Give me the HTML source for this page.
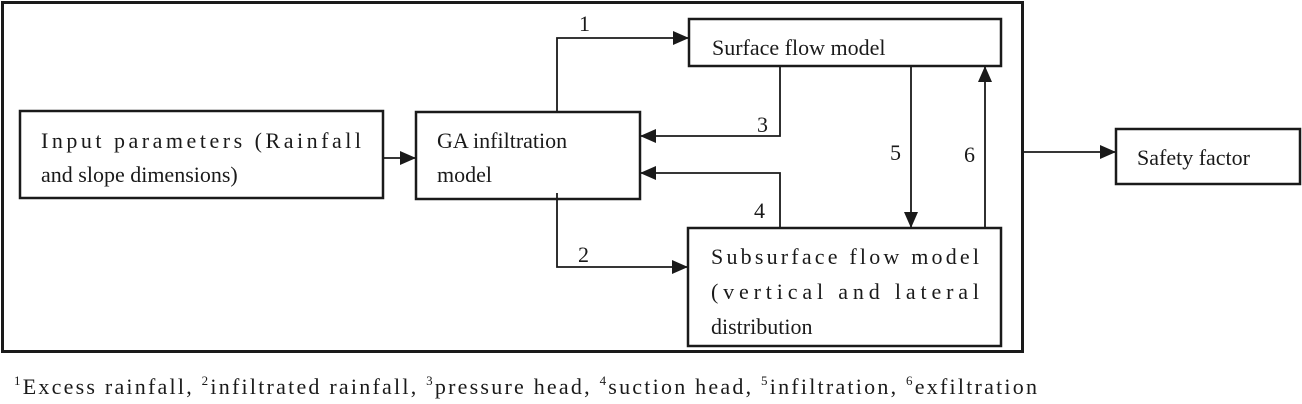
<!DOCTYPE html>
<html><head><meta charset="utf-8"><style>body{margin:0;background:#fff}svg{display:block}</style></head>
<body>
<svg width="1302" height="404" viewBox="0 0 1302 404" xmlns="http://www.w3.org/2000/svg" font-family="Liberation Serif, serif" font-size="22" fill="#1a1a1a">
<defs><marker id="a" markerWidth="10" markerHeight="10" refX="9" refY="5" orient="auto" markerUnits="userSpaceOnUse"><path d="M0,0 L10,5 L0,10 z" fill="#1a1a1a" transform="scale(1.6) translate(-3.5,-1.9)"/></marker>
<marker id="b" markerWidth="20" markerHeight="20" refX="16" refY="7" orient="auto" markerUnits="userSpaceOnUse"><path d="M0,0 L16,7 L0,14 z" fill="#1a1a1a"/></marker></defs>
<g fill="none" stroke="#1a1a1a">
<rect x="2.5" y="2.5" width="1020" height="349" stroke-width="3"/>
<rect x="20" y="111" width="363" height="87" stroke-width="2.5"/>
<rect x="416" y="112" width="224" height="87" stroke-width="2.5"/>
<rect x="689" y="19" width="312" height="47" stroke-width="2.5"/>
<rect x="688" y="228" width="313" height="118" stroke-width="2.5"/>
<rect x="1116" y="129" width="184" height="55" stroke-width="2.5"/>
<g stroke-width="1.8">
<line x1="383" y1="158" x2="416" y2="158" marker-end="url(#b)"/>
<polyline points="557,112 557,38 689,38" marker-end="url(#b)"/>
<polyline points="557,193 557,267 688,267" marker-end="url(#b)"/>
<polyline points="780,66 780,136 640,136" marker-end="url(#b)"/>
<polyline points="780,228 780,173 640,173" marker-end="url(#b)"/>
<line x1="911" y1="66" x2="911" y2="228" marker-end="url(#b)"/>
<line x1="985" y1="228" x2="985" y2="66" marker-end="url(#b)"/>
<line x1="1023" y1="152" x2="1116" y2="152" marker-end="url(#b)"/>
</g></g>
<text x="41" y="148" textLength="320" lengthAdjust="spacing">Input   parameters   (Rainfall</text>
<text x="41" y="182">and slope dimensions)</text>
<text x="437" y="148">GA infiltration</text>
<text x="437" y="182">model</text>
<text x="712" y="55">Surface flow model</text>
<text x="711" y="264" textLength="268" lengthAdjust="spacing">Subsurface  flow  model</text>
<text x="711" y="299" textLength="268" lengthAdjust="spacing">(vertical    and    lateral</text>
<text x="711" y="334">distribution</text>
<text x="1137" y="165">Safety factor</text>
<text x="579" y="31">1</text>
<text x="578" y="262">2</text>
<text x="757" y="132">3</text>
<text x="754" y="218">4</text>
<text x="890" y="160">5</text>
<text x="964" y="162">6</text>
<text x="14" y="394" textLength="1023" lengthAdjust="spacing"><tspan font-size="13" dy="-9">1</tspan><tspan dy="9">Excess rainfall, </tspan><tspan font-size="13" dy="-9">2</tspan><tspan dy="9">infiltrated rainfall, </tspan><tspan font-size="13" dy="-9">3</tspan><tspan dy="9">pressure head, </tspan><tspan font-size="13" dy="-9">4</tspan><tspan dy="9">suction head, </tspan><tspan font-size="13" dy="-9">5</tspan><tspan dy="9">infiltration, </tspan><tspan font-size="13" dy="-9">6</tspan><tspan dy="9">exfiltration</tspan></text>
</svg>
</body></html>
